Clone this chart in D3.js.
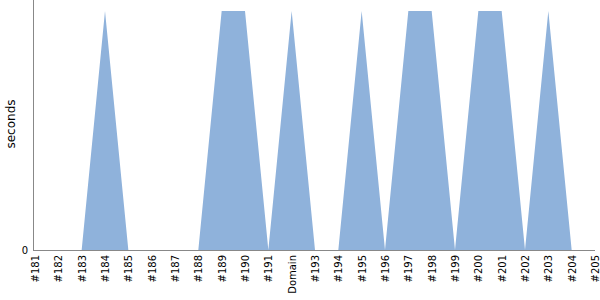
<!DOCTYPE html>
<html>
<head>
<meta charset="utf-8">
<script src="https://cdn.jsdelivr.net/npm/d3@7"></script>
<style>
body { margin: 0; background: #fff; }
svg text { font-family: "DejaVu Sans", sans-serif; }
</style>
</head>
<body>
<div id="chart"></div>
<script>
var labels = ['#181','#182','#183','#184','#185','#186','#187','#188','#189','#190','#191','Domain','#193',
    '#194','#195','#196','#197','#198','#199','#200','#201','#202','#203','#204','#205'];
var seconds = [0,0,0,1,0,0,0,0,1,1,0,1,0,0,1,0,1,1,0,1,1,0,1,0,null];
var yTicks = [0];

const width = 600;
const height = 300;

const svg = d3.select('#chart')
    .append('svg')
    .attr('width', width)
    .attr('height', height);

var x = d3.scalePoint()
    .domain(labels)
    .range([35, 595]);

var y = d3.scaleLinear()
    .domain([0, 1])
    .range([250, 11]);

var data = labels.map(function(l, i) { return {label: l, v: seconds[i]}; });

// area, no points for #205
var area = d3.area()
    .defined(function(d) { return d.v != null; })
    .x(function(d) { return x(d.label); })
    .y0(y(0))
    .y1(function(d) { return y(d.v); });

svg.append('path')
    .datum(data)
    .attr('d', area)
    .attr('fill', '#8fb2db');

// x axis
var gx = svg.append('g')
    .attr('transform', 'translate(0,250)')
    .call(d3.axisBottom(x).tickSize(0).tickPadding(4));
gx.select('.domain').attr('stroke', '#888').attr('d', 'M33,0.5H595');
gx.selectAll('text')
    .style('font-family', '"DejaVu Sans", sans-serif')
    .style('font-size', '10px')
    .attr('fill', '#000')
    .attr('transform', 'rotate(-90)')
    .attr('text-anchor', 'end')
    .attr('x', -5)
    .attr('y', 0)
    .attr('dy', '0.35em');

// y axis
var gy = svg.append('g')
    .attr('transform', 'translate(33,0)')
    .call(d3.axisLeft(y).tickValues(yTicks).tickFormat(d3.format('d')).tickSize(0).tickPadding(5));
gy.select('.domain').attr('stroke', '#888').attr('d', 'M0.5,0V250');
gy.selectAll('text')
    .style('font-family', '"DejaVu Sans", sans-serif')
    .style('font-size', '10px')
    .attr('fill', '#000');

svg.append('text')
    .attr('transform', 'translate(15,124) rotate(-90)')
    .attr('text-anchor', 'middle')
    .style('font-size', '12px')
    .text('seconds');
</script>
</body>
</html>
